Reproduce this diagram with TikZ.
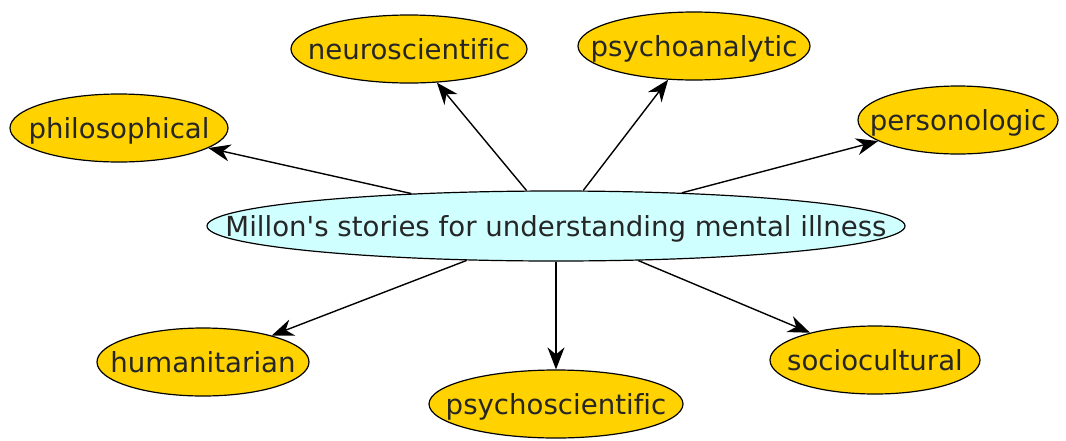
\documentclass[tikz,border=0pt]{standalone}
\usepackage{fontspec}
\setmainfont{DejaVu Sans}[Ligatures={TeXOff,NoCommon}]
\usetikzlibrary{arrows.meta,shapes.geometric}
\definecolor{gold}{RGB}{255,210,0}
\definecolor{lightcyan}{RGB}{208,255,255}
\newcommand{\lbl}[1]{\makebox[0pt]{#1}}
\begin{document}
\begin{tikzpicture}[x=1pt,y=-1pt,
  base/.style={ellipse,draw=black,line width=1.2pt,inner sep=0pt,
    text height=20pt,text depth=0pt,
    font=\fontsize{27.6}{32}\selectfont,text=black!85},
  leaf/.style={base,fill=gold,minimum height=68pt},
  hub/.style={base,fill=lightcyan,minimum height=70pt},
  link/.style={line width=1.4pt,-{Stealth[length=22pt,width=17pt,inset=7pt]}}]
\useasboundingbox (0,0) rectangle (1066,440);
\node[hub,minimum width=698pt] (c) at (556,226) {\lbl{Millon's stories for understanding mental illness}};
\node[leaf,minimum width=236pt] (neuro) at (409,49) {\lbl{neuroscientific}};
\node[leaf,minimum width=232pt] (psya) at (694,46) {\lbl{psychoanalytic}};
\node[leaf,minimum width=200pt] (pers) at (958,120) {\lbl{personologic}};
\node[leaf,minimum width=218pt] (phil) at (119,128) {\lbl{philosophical}};
\node[leaf,minimum width=212pt] (hum) at (203,362) {\lbl{humanitarian}};
\node[leaf,minimum width=210pt] (soc) at (875,360) {\lbl{sociocultural}};
\node[leaf,minimum width=254pt] (psys) at (556,404) {\lbl{psychoscientific}};
\draw[link] (c) -- (neuro);
\draw[link] (c) -- (psya);
\draw[link] (c) -- (pers);
\draw[link] (c) -- (phil);
\draw[link] (c) -- (hum);
\draw[link] (c) -- (soc);
\draw[link] (c) -- (psys);
\end{tikzpicture}
\end{document}
